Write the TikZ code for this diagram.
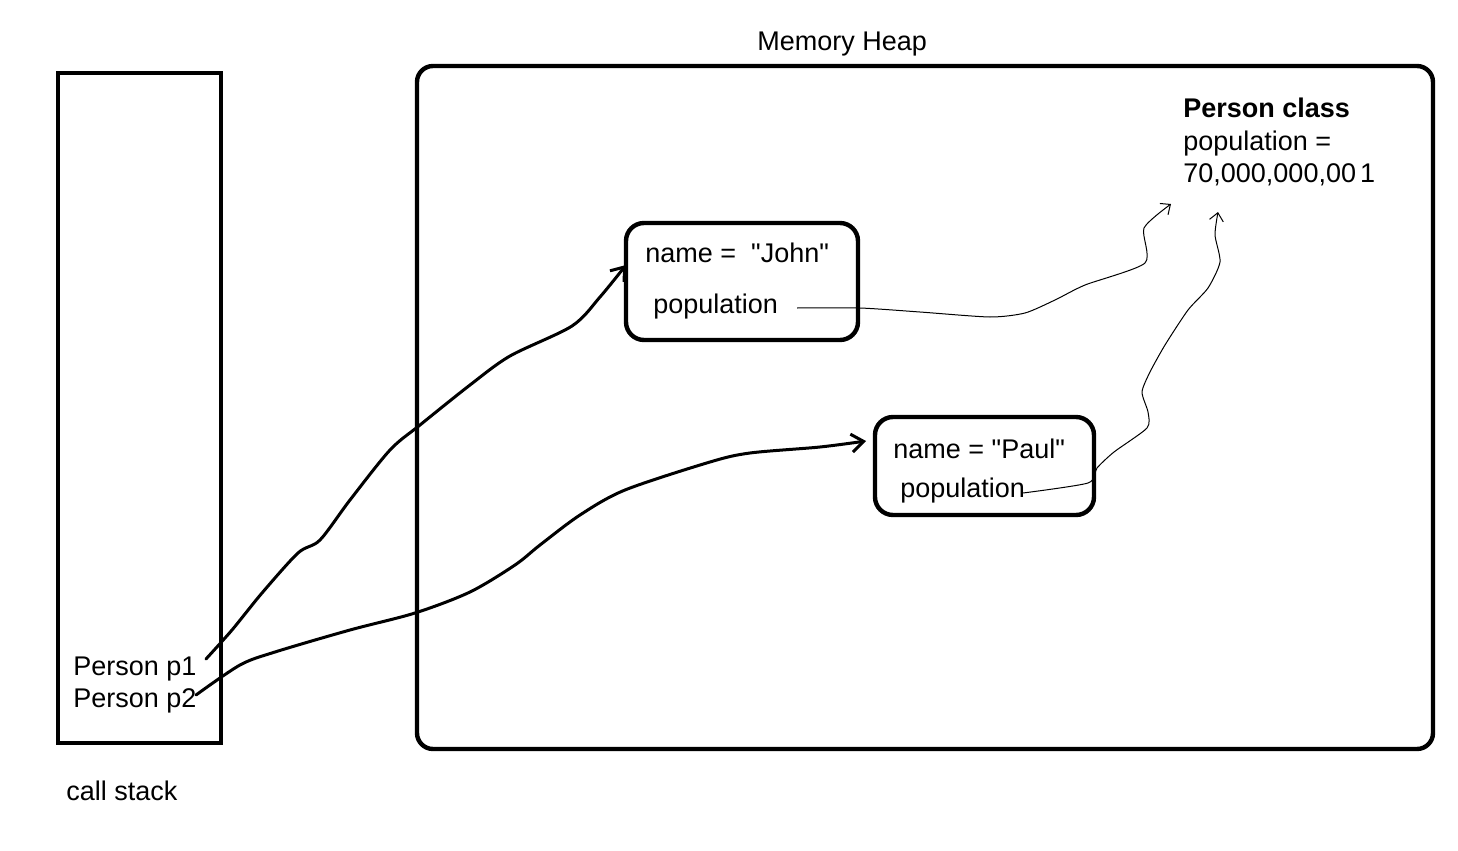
\documentclass[tikz,border=0pt]{standalone}
\usepackage{fontspec}
\setmainfont{Liberation Sans}
\usetikzlibrary{arrows.meta}
\begin{document}
\begin{tikzpicture}[x=0.5pt,y=-0.5pt,
  txt/.style={anchor=base west,inner sep=0pt,font=\fontsize{13.5}{16}\selectfont},
  frame/.style={draw=black,line width=2.2pt},
  thickarr/.style={line width=1.5pt,line cap=round,line join=round,-{Straight Barb[length=6pt,width=9pt,line width=1.5pt]}},
  thinarr/.style={line width=0.5pt,line join=round,-{Straight Barb[length=4pt,width=7pt,line width=0.5pt]}}]
\useasboundingbox (0,0) rectangle (1458,851);
% call stack
\draw[frame] (58,73) rectangle (221,743);
\node[txt] (p1) at (73,675) {Person p1};
\node[txt] (p2) at (73,707) {Person p2};
\node[txt] (cs) at (66,800) {call stack};
% heap
\draw[frame,rounded corners=8pt] (417,66) rectangle (1433,749);
\node[txt] (mh) at (757,50) {Memory Heap};
% John box
\draw[frame,rounded corners=9pt] (626,223) rectangle (858,340);
\node[txt] (jn) at (645,262) {name =\ \ \textquotedbl John\textquotedbl};
\node[txt] (jp) at (653,313) {population};
% Paul box
\draw[frame,rounded corners=9pt] (875,417) rectangle (1094,515);
\node[txt] (pn) at (893,458) {name = \textquotedbl Paul\textquotedbl};
\node[txt] (pp) at (900,497) {population};
% Person class
\node[txt,font=\fontsize{13.5}{16}\selectfont\bfseries] (pc) at (1183,117) {Person class};
\node[txt] (pop) at (1183,150) {population =};
\node[txt] (val) at (1183,182) {70,000,000,00\kern2pt 1};
% coordinates
\coordinate (s1) at (206,659);
\coordinate (e1) at (626,265);
\coordinate (s2) at (196,695);
\coordinate (e2) at (866,441);
\coordinate (s3) at (797,308);
\coordinate (e3) at (1171,204);
\coordinate (s4) at (1023,493);
\coordinate (e4) at (1218,212);
% connectors
\draw[thickarr] plot[smooth,tension=0.5] coordinates {(s1) (232,630) (262,593) (298,553) (320,540) (350,500) (390,450) (420,425) (470,385) (510,356) (572,326) (600,297) (e1)};
\draw[thickarr] plot[smooth,tension=0.5] coordinates {(s2) (240,665) (275,652) (350,630) (415,613) (470,592) (515,565) (540,545) (580,515) (625,490) (710,462) (750,453) (820,447) (e2)};
\draw[thinarr] plot[smooth,tension=0.4] coordinates {(s3) (860,308) (920,312) (990,317) (1025,313) (1055,300) (1085,285) (1145,263) (1144,228) (e3)};
\draw[thinarr] plot[smooth,tension=0.4] coordinates {(s4) (1088,483) (1097,468) (1114,452) (1147,428) (1148,412) (1142,392) (1150,372) (1165,345) (1188,310) (1208,288) (1220,262) (1215,235) (e4)};
\end{tikzpicture}
\end{document}
